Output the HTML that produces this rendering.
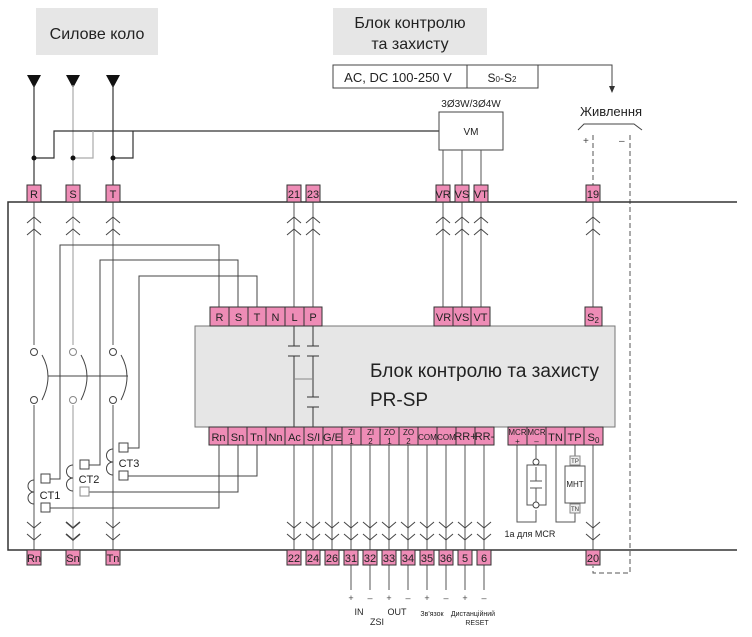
<!DOCTYPE html>
<html><head><meta charset="utf-8"><style>
body{margin:0;background:#fff}
svg{display:block;font-family:"Liberation Sans","DejaVu Sans",sans-serif}
.k{fill:#ee8cb6;stroke:#333;stroke-width:1}
.t{font-size:11px;fill:#222;text-anchor:middle}
.s{font-size:8px;fill:#222;text-anchor:middle}
</style></head><body>
<svg width="752" height="637" viewBox="0 0 752 637" xmlns="http://www.w3.org/2000/svg">
<rect x="36" y="8" width="122" height="47" fill="#e6e6e6"/>
<text x="97" y="39" font-size="16" text-anchor="middle" fill="#222">Силове коло</text>
<rect x="333" y="8" width="154" height="47" fill="#e6e6e6"/>
<text x="410" y="28" font-size="16" text-anchor="middle" fill="#222">Блок контролю</text>
<text x="410" y="49" font-size="16" text-anchor="middle" fill="#222">та захисту</text>
<rect x="333" y="65" width="205" height="23" fill="#fff" stroke="#444"/>
<line x1="467" y1="65" x2="467" y2="88" stroke="#444"/>
<text x="398" y="82" font-size="13" text-anchor="middle" fill="#222">AC, DC 100-250 V</text>
<text x="502" y="82" font-size="12" text-anchor="middle" fill="#222">S<tspan font-size="8">0</tspan>-S<tspan font-size="8">2</tspan></text>
<polyline points="538,65 612,65 612,86" fill="none" stroke="#444"/>
<polygon points="609,86 615,86 612,93" fill="#333"/>
<text x="611" y="116" font-size="13" text-anchor="middle" fill="#222">Живлення</text>
<polyline points="578,130 584,124 634,124 642,130" fill="none" stroke="#444"/>
<text x="583" y="144" font-size="10" fill="#444">+</text>
<text x="619" y="144" font-size="10" fill="#444">–</text>
<g stroke="#555" stroke-dasharray="5,3" fill="none">
<line x1="593" y1="135" x2="593" y2="185"/>
<polyline points="630,135 630,573 593,573 593,566"/>
</g>
<g fill="#111"><polygon points="27,75 41,75 34,88"/><polygon points="66,75 80,75 73,88"/><polygon points="106,75 120,75 113,88"/></g>
<g fill="none" stroke-width="1.2">
<line x1="34" y1="85" x2="34" y2="185" stroke="#333"/>
<line x1="73" y1="85" x2="73" y2="185" stroke="#aaa"/>
<line x1="113" y1="85" x2="113" y2="185" stroke="#333"/>
<polyline points="34,158 54,158 54,131 440,131" stroke="#333" />
<polyline points="73,158 93,158 93,131" stroke="#aaa"/>
<polyline points="113,158 133,158 133,131" stroke="#333"/>
</g>
<g fill="#111"><circle cx="34" cy="158" r="2.5"/><circle cx="73" cy="158" r="2.5"/><circle cx="113" cy="158" r="2.5"/></g>
<text x="471" y="107" font-size="10" text-anchor="middle" fill="#222">3Ø3W/3Ø4W</text>
<rect x="439" y="112" width="64" height="38" fill="#fff" stroke="#444"/>
<text x="471" y="135" font-size="10" text-anchor="middle" fill="#222">VM</text>
<polyline points="737,202 8,202 8,550 737,550" fill="none" stroke="#333" stroke-width="1.5"/>
<g stroke="#555" stroke-width="1">
<line x1="443" y1="150" x2="443" y2="307"/><line x1="462" y1="150" x2="462" y2="307"/><line x1="481" y1="150" x2="481" y2="307"/>
<line x1="593" y1="202" x2="593" y2="307"/>
<line x1="294" y1="202" x2="294" y2="307"/><line x1="313" y1="202" x2="313" y2="307"/>
<line x1="34" y1="202" x2="34" y2="345"/><line x1="113" y1="202" x2="113" y2="345"/>
<line x1="34" y1="405" x2="34" y2="550"/><line x1="113" y1="405" x2="113" y2="550"/>
</g>
<line x1="73" y1="202" x2="73" y2="345" stroke="#aaa" stroke-width="1.2"/>
<line x1="73" y1="405" x2="73" y2="550" stroke="#aaa" stroke-width="1.2"/>
<g fill="none" stroke="#444">
<path d="M27,223 L34,217 L41,223 M27,235 L34,229 L41,235"/>
<path d="M66,223 L73,217 L80,223 M66,235 L73,229 L80,235"/>
<path d="M106,223 L113,217 L120,223 M106,235 L113,229 L120,235"/>
<path d="M287,223 L294,217 L301,223 M287,235 L294,229 L301,235"/>
<path d="M306,223 L313,217 L320,223 M306,235 L313,229 L320,235"/>
<path d="M436,223 L443,217 L450,223 M436,235 L443,229 L450,235"/>
<path d="M455,223 L462,217 L469,223 M455,235 L462,229 L469,235"/>
<path d="M474,223 L481,217 L488,223 M474,235 L481,229 L488,235"/>
<path d="M586,223 L593,217 L600,223 M586,235 L593,229 L600,235"/>
</g>
<g fill="none" stroke="#444">
<polyline points="50,479 60,479 60,245 219,245 219,307"/>
<polyline points="89,465 100,465 100,260 238,260 238,307"/>
<polyline points="128,448 139,448 139,276 257,276 257,307"/>
<polyline points="50,508 219,508 219,445"/>
<polyline points="89,492 238,492 238,445"/>
<polyline points="128,476 257,476 257,445"/>
<line x1="48" y1="376" x2="128" y2="376"/>
<path d="M42,355 Q54,376 42,400"/><path d="M81,355 Q93,376 81,400"/><path d="M121,355 Q133,376 121,400"/>
<path d="M34,480 a6,6 0 0 0 0,12 a6,6 0 0 0 0,12"/>
<path d="M73,465 a6,6 0 0 0 0,13 a6,6 0 0 0 0,13"/>
<path d="M113,449 a6,6 0 0 0 0,13 a6,6 0 0 0 0,13"/>
</g>
<g fill="#fff" stroke="#444">
<circle cx="34" cy="352" r="3.5"/><circle cx="34" cy="400" r="3.5"/>
<circle cx="73" cy="352" r="3.5" stroke="#888"/><circle cx="73" cy="400" r="3.5" stroke="#888"/>
<circle cx="113" cy="352" r="3.5"/><circle cx="113" cy="400" r="3.5"/>
<rect x="41" y="474" width="9" height="9"/><rect x="41" y="503" width="9" height="9"/>
<rect x="80" y="460" width="9" height="9"/><rect x="80" y="487" width="9" height="9" stroke="#888"/>
<rect x="119" y="443" width="9" height="9"/><rect x="119" y="471" width="9" height="9"/>
</g>
<text x="50" y="499" font-size="11" text-anchor="middle" fill="#222">CT1</text>
<text x="89" y="483" font-size="11" text-anchor="middle" fill="#222">CT2</text>
<text x="129" y="467" font-size="11" text-anchor="middle" fill="#222">CT3</text>
<rect x="195" y="326" width="420" height="101" fill="#e6e6e6" stroke="#777"/>
<text x="370" y="377" font-size="19" fill="#222">Блок контролю та захисту</text>
<text x="370" y="406" font-size="19" fill="#222">PR-SP</text>
<g stroke="#333" fill="none">
<line x1="294" y1="326" x2="294" y2="346"/><line x1="288" y1="346" x2="300" y2="346"/>
<line x1="288" y1="356" x2="300" y2="356"/><line x1="294" y1="356" x2="294" y2="427"/>
<line x1="313" y1="326" x2="313" y2="346"/><line x1="307" y1="346" x2="319" y2="346"/>
<line x1="307" y1="356" x2="319" y2="356"/><line x1="313" y1="356" x2="313" y2="397"/>
<line x1="307" y1="397" x2="319" y2="397"/><line x1="307" y1="407" x2="319" y2="407"/>
<line x1="313" y1="407" x2="313" y2="427"/>
<line x1="294" y1="379" x2="313" y2="379" stroke="#888"/>
</g>
<g stroke="#555" fill="none">
<line x1="294" y1="445" x2="294" y2="550"/><line x1="313" y1="445" x2="313" y2="550"/>
<line x1="332" y1="445" x2="332" y2="550"/><line x1="351" y1="445" x2="351" y2="590"/>
<line x1="370" y1="445" x2="370" y2="590"/><line x1="389" y1="445" x2="389" y2="590"/>
<line x1="408" y1="445" x2="408" y2="590"/><line x1="427" y1="445" x2="427" y2="590"/>
<line x1="446" y1="445" x2="446" y2="590"/><line x1="465" y1="445" x2="465" y2="590"/>
<line x1="484" y1="445" x2="484" y2="590"/>
<line x1="593" y1="445" x2="593" y2="550"/>
<polyline points="517,445 517,522 536,522 536,510"/>
<line x1="536" y1="445" x2="536" y2="459"/>
<rect x="527" y="465" width="19" height="40"/>
<line x1="536" y1="467" x2="536" y2="481"/><line x1="530" y1="481" x2="542" y2="481"/>
<line x1="530" y1="488" x2="542" y2="488"/><line x1="536" y1="488" x2="536" y2="503"/>
<polyline points="556,445 556,522 575,522 575,513"/>
<line x1="575" y1="445" x2="575" y2="456"/>
<rect x="565" y="466" width="20" height="37" fill="#fff"/>
</g>
<circle cx="536" cy="462" r="3" fill="#fff" stroke="#444"/><circle cx="536" cy="505" r="3" fill="#fff" stroke="#444"/>
<rect x="570" y="456" width="10" height="9" fill="#eee" stroke="#888"/>
<rect x="570" y="504" width="10" height="9" fill="#eee" stroke="#888"/>
<text x="575" y="463" font-size="6" text-anchor="middle" fill="#333">TP</text>
<text x="575" y="511" font-size="6" text-anchor="middle" fill="#333">TN</text>
<text x="575" y="487" font-size="8" text-anchor="middle" fill="#222">MHT</text>
<text x="530" y="537" font-size="9" text-anchor="middle" fill="#222">1a для MCR</text>
<g fill="none" stroke="#444">
<path d="M27,522 L34,528 L41,522 M27,534 L34,540 L41,534"/>
<path d="M66,522 L73,528 L80,522 M66,534 L73,540 L80,534" stroke-width="1.5"/>
<path d="M106,522 L113,528 L120,522 M106,534 L113,540 L120,534"/>
<path d="M287,522 L294,528 L301,522 M287,534 L294,540 L301,534"/>
<path d="M306,522 L313,528 L320,522 M306,534 L313,540 L320,534"/>
<path d="M325,522 L332,528 L339,522 M325,534 L332,540 L339,534"/>
<path d="M344,522 L351,528 L358,522 M344,534 L351,540 L358,534"/>
<path d="M363,522 L370,528 L377,522 M363,534 L370,540 L377,534"/>
<path d="M382,522 L389,528 L396,522 M382,534 L389,540 L396,534"/>
<path d="M401,522 L408,528 L415,522 M401,534 L408,540 L415,534"/>
<path d="M420,522 L427,528 L434,522 M420,534 L427,540 L434,534"/>
<path d="M439,522 L446,528 L453,522 M439,534 L446,540 L453,534"/>
<path d="M458,522 L465,528 L472,522 M458,534 L465,540 L472,534"/>
<path d="M477,522 L484,528 L491,522 M477,534 L484,540 L491,534"/>
<path d="M586,522 L593,528 L600,522 M586,534 L593,540 L600,534"/>
</g>
<rect class="k" x="27" y="185" width="14" height="17"/><text class="t" x="34" y="198">R</text>
<rect class="k" x="66" y="185" width="14" height="17"/><text class="t" x="73" y="198">S</text>
<rect class="k" x="106" y="185" width="14" height="17"/><text class="t" x="113" y="198">T</text>
<rect class="k" x="287" y="185" width="14" height="17"/><text class="t" x="294" y="198">21</text>
<rect class="k" x="306" y="185" width="14" height="17"/><text class="t" x="313" y="198">23</text>
<rect class="k" x="436" y="185" width="14" height="17"/><text class="t" x="443" y="198">VR</text>
<rect class="k" x="455" y="185" width="14" height="17"/><text class="t" x="462" y="198">VS</text>
<rect class="k" x="474" y="185" width="14" height="17"/><text class="t" x="481" y="198">VT</text>
<rect class="k" x="586" y="185" width="14" height="17"/><text class="t" x="593" y="198">19</text>
<g>
<rect class="k" x="210" y="307" width="19" height="19"/><text class="t" x="219.5" y="321">R</text>
<rect class="k" x="229" y="307" width="19" height="19"/><text class="t" x="238.5" y="321">S</text>
<rect class="k" x="248" y="307" width="18" height="19"/><text class="t" x="257" y="321">T</text>
<rect class="k" x="266" y="307" width="19" height="19"/><text class="t" x="275.5" y="321">N</text>
<rect class="k" x="285" y="307" width="19" height="19"/><text class="t" x="294.5" y="321">L</text>
<rect class="k" x="304" y="307" width="18" height="19"/><text class="t" x="313" y="321">P</text>
<rect class="k" x="434" y="307" width="19" height="19"/><text class="t" x="443.5" y="321">VR</text>
<rect class="k" x="453" y="307" width="18" height="19"/><text class="t" x="462" y="321">VS</text>
<rect class="k" x="471" y="307" width="19" height="19"/><text class="t" x="480.5" y="321">VT</text>
<rect class="k" x="585" y="307" width="17" height="19"/><text class="t" x="593" y="321">S<tspan font-size="8" dy="2">2</tspan></text>
</g>
<g>
<rect class="k" x="209" y="427" width="19" height="18"/><text class="t" x="218.5" y="441">Rn</text>
<rect class="k" x="228" y="427" width="19" height="18"/><text class="t" x="237.5" y="441">Sn</text>
<rect class="k" x="247" y="427" width="19" height="18"/><text class="t" x="256.5" y="441">Tn</text>
<rect class="k" x="266" y="427" width="19" height="18"/><text class="t" x="275.5" y="441">Nn</text>
<rect class="k" x="285" y="427" width="19" height="18"/><text class="t" x="294.5" y="441">Ac</text>
<rect class="k" x="304" y="427" width="19" height="18"/><text class="t" x="313.5" y="441" font-size="10">S/I</text>
<rect class="k" x="323" y="427" width="19" height="18"/><text class="t" x="332.5" y="441" font-size="10">G/E</text>
<rect class="k" x="342" y="427" width="19" height="18"/><text class="s" x="351.5" y="435">ZI</text><text class="s" x="351.5" y="444">1</text>
<rect class="k" x="361" y="427" width="19" height="18"/><text class="s" x="370.5" y="435">ZI</text><text class="s" x="370.5" y="444">2</text>
<rect class="k" x="380" y="427" width="19" height="18"/><text class="s" x="389.5" y="435">ZO</text><text class="s" x="389.5" y="444">1</text>
<rect class="k" x="399" y="427" width="19" height="18"/><text class="s" x="408.5" y="435">ZO</text><text class="s" x="408.5" y="444">2</text>
<rect class="k" x="418" y="427" width="19" height="18"/><text class="s" x="427.5" y="440">COM</text>
<rect class="k" x="437" y="427" width="19" height="18"/><text class="s" x="446.5" y="440">COM</text>
<rect class="k" x="456" y="427" width="19" height="18"/><text class="t" x="465.5" y="440" font-size="9">RR+</text>
<rect class="k" x="475" y="427" width="19" height="18"/><text class="t" x="484.5" y="440" font-size="9">RR-</text>
<rect class="k" x="508" y="427" width="19" height="18"/><text class="s" x="517.5" y="435">MCR</text><text class="s" x="517.5" y="444">+</text>
<rect class="k" x="527" y="427" width="19" height="18"/><text class="s" x="536.5" y="435">MCR</text><text class="s" x="536.5" y="444">–</text>
<rect class="k" x="546" y="427" width="19" height="18"/><text class="t" x="555.5" y="441">TN</text>
<rect class="k" x="565" y="427" width="19" height="18"/><text class="t" x="574.5" y="441">TP</text>
<rect class="k" x="584" y="427" width="19" height="18"/><text class="t" x="593.5" y="441">S<tspan font-size="8" dy="2">0</tspan></text>
</g>
<g>
<rect class="k" x="27" y="550" width="14" height="15"/><text class="t" x="34" y="562">Rn</text>
<rect class="k" x="66" y="550" width="14" height="15"/><text class="t" x="73" y="562">Sn</text>
<rect class="k" x="106" y="550" width="14" height="15"/><text class="t" x="113" y="562">Tn</text>
<rect class="k" x="287" y="550" width="14" height="15"/><text class="t" x="294" y="562">22</text>
<rect class="k" x="306" y="550" width="14" height="15"/><text class="t" x="313" y="562">24</text>
<rect class="k" x="325" y="550" width="14" height="15"/><text class="t" x="332" y="562">26</text>
<rect class="k" x="344" y="550" width="14" height="15"/><text class="t" x="351" y="562">31</text>
<rect class="k" x="363" y="550" width="14" height="15"/><text class="t" x="370" y="562">32</text>
<rect class="k" x="382" y="550" width="14" height="15"/><text class="t" x="389" y="562">33</text>
<rect class="k" x="401" y="550" width="14" height="15"/><text class="t" x="408" y="562">34</text>
<rect class="k" x="420" y="550" width="14" height="15"/><text class="t" x="427" y="562">35</text>
<rect class="k" x="439" y="550" width="14" height="15"/><text class="t" x="446" y="562">36</text>
<rect class="k" x="458" y="550" width="14" height="15"/><text class="t" x="465" y="562">5</text>
<rect class="k" x="477" y="550" width="14" height="15"/><text class="t" x="484" y="562">6</text>
<rect class="k" x="586" y="550" width="14" height="15"/><text class="t" x="593" y="562">20</text>
</g>
<g font-size="9" fill="#444" text-anchor="middle">
<text x="351" y="601">+</text><text x="370" y="601">–</text><text x="389" y="601">+</text><text x="408" y="601">–</text>
<text x="427" y="601">+</text><text x="446" y="601">–</text><text x="465" y="601">+</text><text x="484" y="601">–</text>
</g>
<g fill="#222" text-anchor="middle">
<text x="359" y="615" font-size="9">IN</text>
<text x="377" y="625" font-size="9">ZSI</text>
<text x="397" y="615" font-size="9">OUT</text>
<text x="432" y="616" font-size="7">Зв'язок</text>
<text x="473" y="616" font-size="7">Дистанційний</text>
<text x="477" y="625" font-size="7">RESET</text>
</g>
</svg>
</body></html>
